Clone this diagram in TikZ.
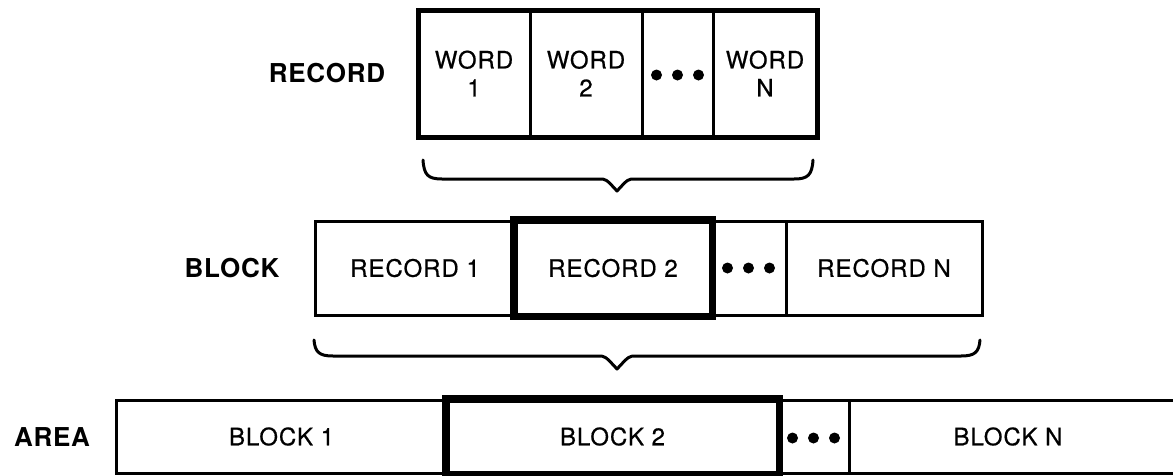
\documentclass[tikz,border=0pt]{standalone}
\usepackage{fontspec}
\setmainfont{TeX Gyre Heros}
\newfontfamily\cellfont[LetterSpace=4,FakeBold=0.6]{TeX Gyre Heros}
\newfontfamily\labelfont[LetterSpace=3]{TeX Gyre Heros}
\begin{document}
\begin{tikzpicture}[x=1pt,y=-1pt,
  cell/.style={draw, line width=3pt, inner sep=0pt, align=center,
    font=\cellfont\fontsize{24}{28}\selectfont},
  heavycell/.style={cell, line width=5pt},
  rowlabel/.style={inner sep=0pt, font=\labelfont\fontsize{26}{30}\selectfont\bfseries},
  bracepath/.style={draw, line width=3pt, line cap=round, line join=round},
  dotmark/.style={fill=black}
]
\useasboundingbox (0,0) rectangle (1173,475);

% ---------- RECORD row ----------
\node[rowlabel] (reclabel) at (327,73.5) {RECORD};
\node[cell, minimum width=112pt, minimum height=127pt] (w1) at (474,73.5) {WORD\\1};
\node[cell, minimum width=112pt, minimum height=127pt] (w2) at (586,73.5) {WORD\\2};
\node[cell, minimum width=71pt, minimum height=127pt] (wd) at (677.5,73.5) {};
\node[cell, minimum width=104pt, minimum height=127pt] (wn) at (765,73.5) {WORD\\N};
\node[draw, line width=5pt, inner sep=0pt, minimum width=399pt, minimum height=127pt] (recbox) at (617.5,73.5) {};
\foreach \dx in {-21,0,21} \fill[dotmark] ([xshift=\dx pt, yshift=-1.5pt]wd.center) circle (5.5pt);

% brace 1
\draw[bracepath] (423,160) .. controls (424,175) and (428,179) .. (442,179)
  -- (599,179) .. controls (606,179) .. (617,191) .. controls (628,179) .. (635,179)
  -- (794,179) .. controls (808,179) and (812,175) .. (813,160);

% ---------- BLOCK row ----------
\node[rowlabel] (blklabel) at (232,268) {BLOCK};
\node[cell, minimum width=200pt, minimum height=94pt] (r1) at (415,268) {RECORD 1};
\node[heavycell, minimum width=196pt, minimum height=94pt] (r2) at (613,268) {RECORD 2};
\node[cell, minimum width=75pt, minimum height=94pt] (rd) at (748.5,268) {};
\node[cell, minimum width=196pt, minimum height=94pt] (rn) at (884,268) {RECORD N};
\draw[line width=5pt] (r2.north west) rectangle (r2.south east);
\foreach \dx in {-21,0,21} \fill[dotmark] ([xshift=\dx pt]rd.center) circle (5.5pt);

% brace 2
\draw[bracepath] (314,340) .. controls (315,352) and (319,356) .. (333,356)
  -- (598,356) .. controls (605,356) .. (617,369) .. controls (629,356) .. (636,356)
  -- (961,356) .. controls (975,356) and (979,352) .. (980,340);

% ---------- AREA row ----------
\node[rowlabel] (arealabel) at (52,437.5) {AREA};
\node[cell, minimum width=331pt, minimum height=73pt] (b1) at (281.5,436.5) {BLOCK 1};
\node[heavycell, minimum width=331pt, minimum height=73pt] (b2) at (612.5,436.5) {BLOCK 2};
\node[cell, minimum width=71pt, minimum height=73pt] (bd) at (813.5,436.5) {};
\node[cell, minimum width=331pt, minimum height=73pt] (bn) at (1014.5,436.5) {BLOCK N\hspace*{13pt}};
\draw[line width=5pt] (b2.north west) rectangle (b2.south east);
\foreach \dx in {-21,0,21} \fill[dotmark] ([xshift=\dx pt, yshift=-1.5pt]bd.center) circle (5.5pt);
\end{tikzpicture}
\end{document}
